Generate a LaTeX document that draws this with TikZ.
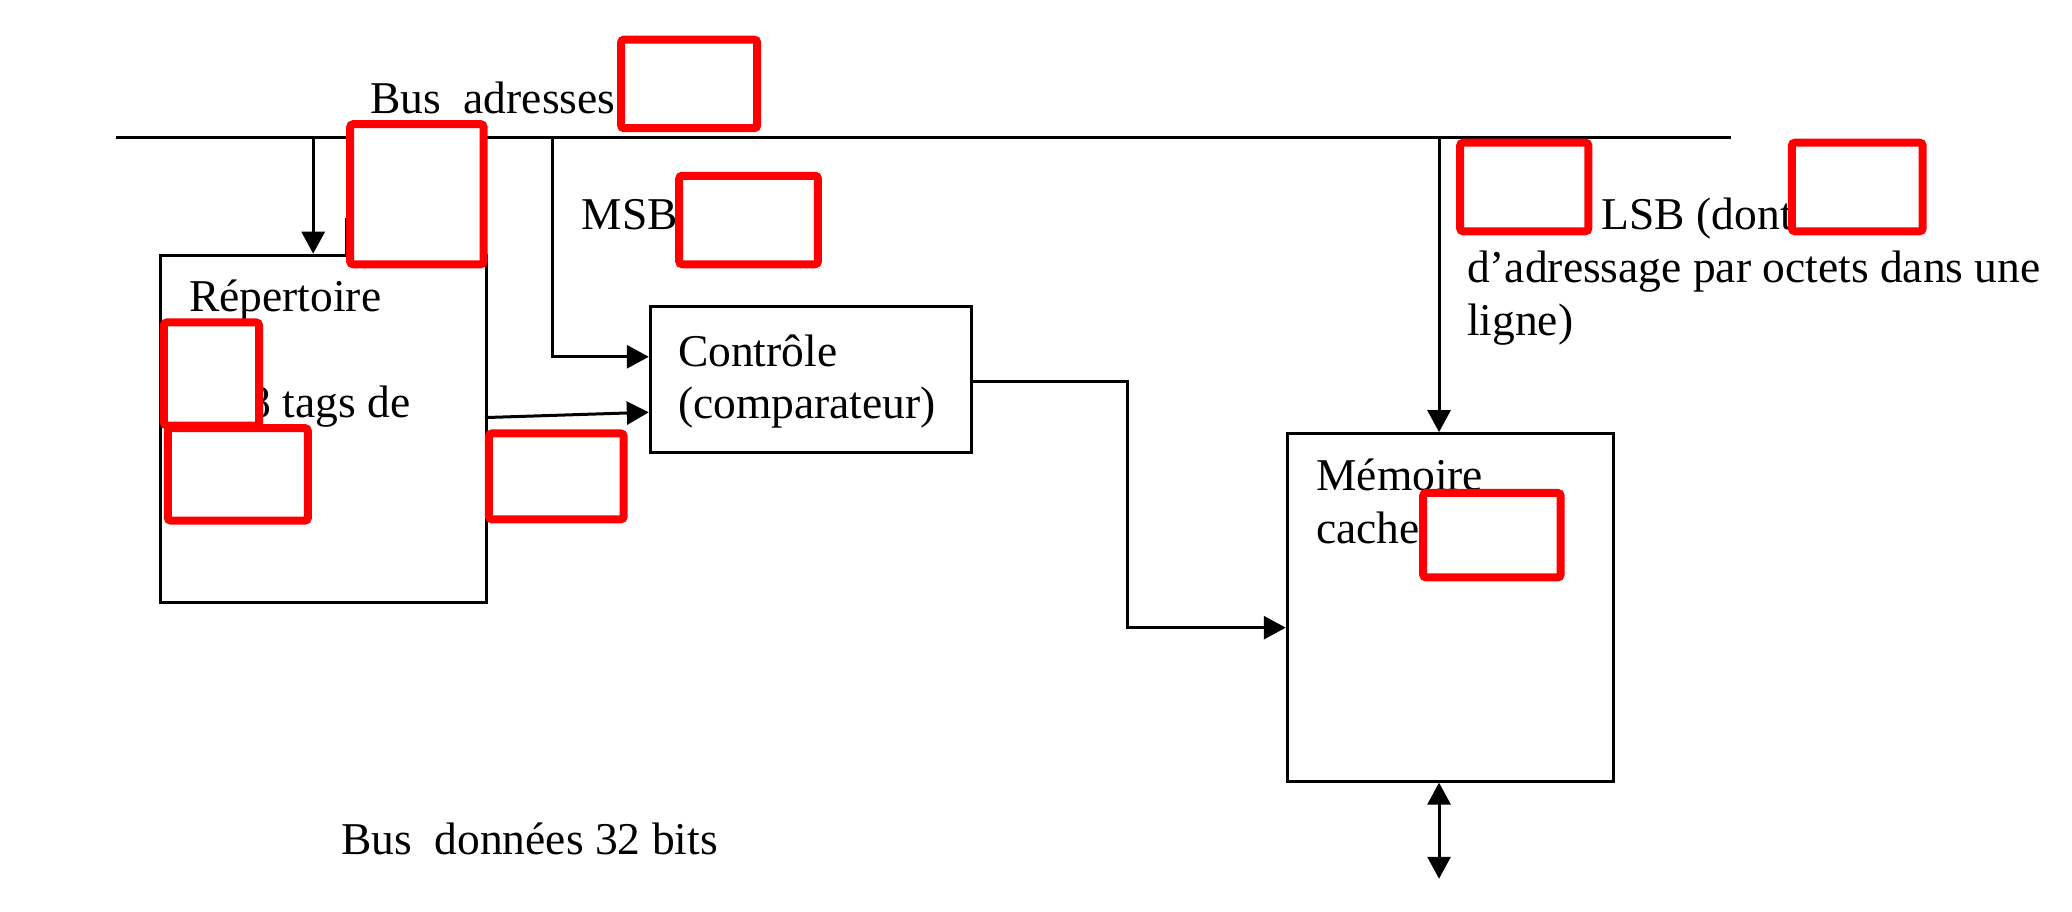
\documentclass[tikz,border=0pt]{standalone}
\usepackage{fontspec}
\setmainfont{Liberation Serif}
\usetikzlibrary{arrows.meta}
\begin{document}
\begin{tikzpicture}[x=1.3214pt,y=-1.3214pt,
  box/.style={draw,line width=3pt,rectangle,inner sep=0pt,anchor=north west},
  ln/.style={line width=3pt},
  arr/.style={ln,-{Triangle[length=22pt,width=23pt]}},
  darr/.style={ln,{Triangle[length=22pt,width=23pt]}-{Triangle[length=22pt,width=23pt]}},
  lbl/.style={anchor=base west,inner sep=0pt,font=\fontsize{45.5}{53}\selectfont},
  redact/.style={draw=red,line width=8pt,fill=white,rounded corners=3pt}]
\useasboundingbox (0,0) rectangle (1568,690);
% boxes
\node[box,minimum width=326.4pt,minimum height=347.5pt] (rep) at (120,192) {};
\node[box,minimum width=321.1pt,minimum height=145.4pt] (ctrl) at (491,231) {};
\node[box,minimum width=326.4pt,minimum height=347.5pt] (mem) at (973,327) {};
% bus
\coordinate (busL) at (88,104);
\coordinate (busR) at (1310,104);
\draw[ln] (busL) -- (busR);
\coordinate (tapA) at (237,104);
\coordinate (tapB) at (418,104);
\coordinate (tapC) at (1089,104);
\coordinate (ctrlIn1) at (491,270);
\coordinate (ctrlIn2) at (491,312);
\coordinate (repOut) at (367,316);
\coordinate (ctrlOut) at (734,289);
\coordinate (memIn) at (973,475);
\coordinate (bend) at (853,289);
\coordinate (dataEnd) at (1089,665);
\coordinate (stubTop) at (262,165);
% connectors
\draw[arr] (tapA) -- (tapA |- rep.north);
\draw[arr] (tapB) |- (ctrlIn1);
\draw[arr] (repOut) -- (ctrlIn2);
\draw[arr] (ctrlOut) -- (bend) |- (memIn);
\draw[arr] (tapC) -- (tapC |- mem.north);
\draw[darr] (tapC |- mem.south) -- (dataEnd);
\draw[ln] (stubTop) -- (stubTop |- rep.north);
% labels
\node[lbl] (tBus) at (280,86) {Bus\ \ adresses};
\node[lbl] (tMSB) at (440,174) {MSB};
\node[lbl] (tLSB) at (1212,174) {LSB (dont};
\node[lbl] (tAdr) at (1110,214) {d’adressage par octets dans une};
\node[lbl] (tLig) at (1110,254) {ligne)};
\node[lbl] (tRep) at (143,236) {Répertoire};
\node[lbl] (tTag) at (188,316) {8 tags de};
\node[lbl] (tCtl) at (513,277) {Contrôle};
\node[lbl] (tCmp) at (513,317) {(comparateur)};
\node[lbl] (tMem) at (996,371) {Mémoire};
\node[lbl] (tCac) at (996,411) {cache};
\node[lbl] (tDon) at (258,647) {Bus\ \ données 32 bits};
% redaction boxes
\draw[redact] (470,30) rectangle (573,97);
\draw[redact] (265,94) rectangle (366,200);
\draw[redact] (514,133) rectangle (619,200);
\draw[redact] (370,328) rectangle (472,393);
\draw[redact] (124,244) rectangle (196,322);
\draw[redact] (127,324) rectangle (233,394);
\draw[redact] (1077,373) rectangle (1181,437);
\draw[redact] (1105,108) rectangle (1202,175);
\draw[redact] (1356,108) rectangle (1455,175);
\end{tikzpicture}
\end{document}
